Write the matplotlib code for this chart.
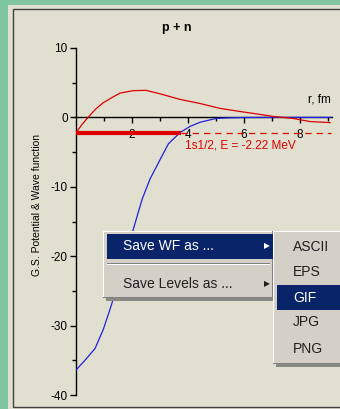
import matplotlib
matplotlib.use("Agg")
import matplotlib.pyplot as plt
from matplotlib.patches import Rectangle

W, H = 340, 409

# ground state potential (blue) and wave function drawn on the level (red)
r_pot = [0, 0.32, 0.68, 0.97, 1.21, 1.32, 1.6, 1.85, 2.04, 2.36, 2.64, 3.0,
         3.3, 3.71, 4.07, 4.43, 5.0, 5.5, 6.0, 7.0, 8.0, 9.1]
v_pot = [-36.4, -35.0, -33.3, -30.6, -27.7, -26.3, -22.4, -19.0, -16.2, -11.8,
         -8.9, -6.1, -3.8, -2.2, -1.3, -0.7, -0.15, -0.06, -0.02, 0, 0, 0]
r_wf = [0, 0.2, 0.43, 0.7, 0.97, 1.3, 1.57, 2.04, 2.5, 3.0, 3.71, 4.43,
        5.14, 5.86, 6.57, 7.04, 7.75, 8.36, 9.07]
u_wf = [-2.22, -1.1, 0, 1.2, 2.1, 2.9, 3.5, 3.85, 3.9, 3.4, 2.6, 2.0,
        1.3, 0.85, 0.43, 0.14, -0.15, -0.6, -0.75]
level_E = -2.22
r_turn = 3.75
r_max = 9.1
level_label = "1s1/2, E = -2.22 MeV"

menu_items = ["Save WF as ...", "Save Levels as ..."]
sub_items = ["ASCII", "EPS", "GIF", "JPG", "PNG"]

GREEN = "#7fc6a0"
PANEL = "#e1e0d0"
MENU = "#d4d0c8"
NAVY = "#0a246a"
RED = "#dd0000"
BLUE = "#2020e0"


def fx(x):
    return x / W


def fy(y):
    return 1 - y / H


plt.rcParams['font.family'] = ['Liberation Sans', 'DejaVu Sans']
plt.rcParams['axes.unicode_minus'] = False

fig = plt.figure(figsize=(W / 100, H / 100), dpi=100, facecolor=GREEN)

# panel
fig.add_artist(Rectangle((fx(8), fy(409)), fx(340) - fx(8), fy(5) - fy(409),
                         transform=fig.transFigure, facecolor=PANEL, edgecolor="none", zorder=0))
fig.add_artist(Rectangle((fx(12.5), fy(406.5)), fx(340), fy(9.5) - fy(406.5),
                         transform=fig.transFigure, facecolor="none", edgecolor="#404040",
                         linewidth=1.0, zorder=0.5))

ax = fig.add_axes([fx(76), fy(395), fx(332) - fx(76), fy(48) - fy(395)])
ax.set_facecolor("none")
ax.set_xlim(0, 9.14)
ax.set_ylim(-40, 10)
for s in ["top", "right"]:
    ax.spines[s].set_visible(False)
ax.spines["bottom"].set_position(("data", 0))
ax.spines["left"].set_linewidth(1.0)
ax.spines["bottom"].set_linewidth(1.0)

ax.set_xticks([2, 4, 6, 8])
ax.set_xticks([1, 3, 5, 7, 9], minor=True)
ax.set_yticks([10, 0, -10, -20, -30, -40])
ax.set_yticks([5, -5, -15, -25, -35], minor=True)
ax.tick_params(axis="x", which="major", length=4, width=1, pad=4, labelsize=8.5)
ax.tick_params(axis="x", which="minor", length=3, width=1)
ax.tick_params(axis="y", which="major", length=4.5, width=1, pad=1.5, labelsize=8.5)
ax.tick_params(axis="y", which="minor", length=3, width=1)

ax.plot(r_pot, v_pot, color=BLUE, linewidth=0.9, zorder=3)
ax.plot(r_wf, u_wf, color=RED, linewidth=0.9, zorder=3)
ax.plot([0, r_turn], [level_E, level_E], color=RED, linewidth=3, solid_capstyle="butt", zorder=4)
ax.plot([r_turn, r_max], [level_E, level_E], color=RED, linewidth=0.9,
        dashes=(5, 4), zorder=3)

ax.text(3.9, -4.0, level_label, color=RED, fontsize=8.5, ha="left", va="center")
ax.text(9.1, 2.6, "r, fm", fontsize=8.5, ha="right", va="center")

fig.text(fx(177), fy(28), "p + n", fontsize=9, fontweight="bold", ha="center", va="center")
fig.text(fx(37), fy(205), "G.S. Potential & Wave function", fontsize=7.5,
         rotation=90, ha="center", va="center")


# popup menus
def box(x0, y0, x1, y1, color, z):
    fig.add_artist(Rectangle((fx(x0), fy(y1)), fx(x1) - fx(x0), fy(y0) - fy(y1),
                             transform=fig.transFigure, facecolor=color,
                             edgecolor="none", zorder=z))


# shadows
box(106, 234, 276, 301, "#8a8a84", 5)
box(276, 234, 343, 367, "#8a8a84", 5)
# main menu
box(103, 231, 273, 298, MENU, 6)
box(103, 231, 273, 232, "#ffffff", 6.5)
box(103, 231, 104, 298, "#ffffff", 6.5)
box(272, 231, 273, 298, "#808080", 6.5)
box(103, 297, 273, 298, "#808080", 6.5)
box(107, 234, 273, 259, NAVY, 7)
box(107, 263, 270, 264, "#808080", 7)
box(107, 264, 270, 265, "#ffffff", 7)
# submenu
box(273, 231, 340, 364, MENU, 6)
box(273, 231, 340, 232, "#ffffff", 6.5)
box(273, 231, 274, 364, "#ffffff", 6.5)
box(273, 363, 340, 364, "#808080", 6.5)
box(277, 285, 340, 310, NAVY, 7)

item_y = [246, 284]
for i, label in enumerate(menu_items):
    col = "white" if i == 0 else "#202020"
    fig.text(fx(123), fy(item_y[i]), label, fontsize=10, color=col,
             ha="left", va="center", zorder=8)
    fig.text(fx(267), fy(item_y[i]), "\u25b6", fontsize=5.5, color=col,
             ha="center", va="center", zorder=8, family="DejaVu Sans")

sub_y = [247, 272, 298, 322, 349]
for i, label in enumerate(sub_items):
    col = "white" if label == "GIF" else "#202020"
    fig.text(fx(293), fy(sub_y[i]), label, fontsize=10, color=col,
             ha="left", va="center", zorder=8)

fig.savefig("out.png", dpi=100, facecolor=GREEN)
